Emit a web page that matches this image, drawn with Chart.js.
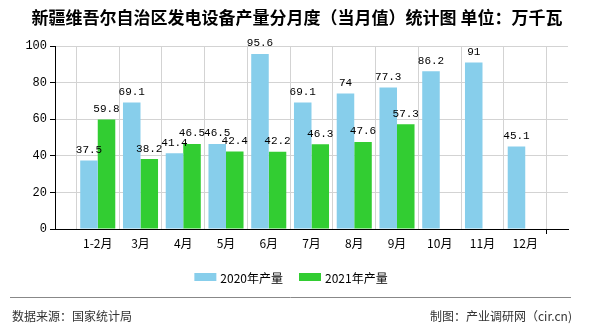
<!DOCTYPE html>
<html>
<head>
<meta charset="utf-8">
<script src="https://cdn.jsdelivr.net/npm/chart.js@4"></script>
<style>
  html, body { margin: 0; padding: 0; background: #fff; }
  #wrap { width: 590px; height: 330px; position: relative; }
</style>
</head>
<body>
<div id="wrap"><canvas id="genChart" width="590" height="330"></canvas></div>
<script>
const months = ["1-2月", "3月", "4月", "5月", "6月", "7月", "8月", "9月", "10月", "11月", "12月"];
const output2020 = [37.5, 69.1, 41.4, 46.5, 95.6, 69.1, 74, 77.3, 86.2, 91, 45.1];
const output2021 = [59.8, 38.2, 46.5, 42.4, 42.2, 46.3, 47.6, 57.3, null, null, null];
const yTicks = [0, 20, 40, 60, 80, 100];

const titleText = "新疆维吾尔自治区发电设备产量分月度（当月值）统计图 单位：万千瓦";
const sourceText = "数据来源：国家统计局";
const makerText = "制图：产业调研网（cir.cn)";

const CJK = '"Noto Sans CJK SC", "Noto Sans", sans-serif';
const MONO = '"Liberation Mono", "DejaVu Sans Mono", monospace';

// blank slot at each end so months sit on the grid lines
const labels = ["", ...months, ""];
const pad = arr => [null, ...arr, null];

/* ===============================
   TITLE, VALUE LABELS, LEGEND, FOOTER
   =============================== */
const decorPlugin = {
  id: "decor",
  afterDatasetsDraw(chart) {
    const ctx = chart.ctx;
    ctx.save();
    ctx.font = "11px " + MONO;
    ctx.fillStyle = "#000";
    ctx.textAlign = "center";
    ctx.textBaseline = "bottom";
    chart.data.datasets.forEach((ds, di) => {
      const meta = chart.getDatasetMeta(di);
      meta.data.forEach((bar, i) => {
        const v = ds.data[i];
        if (v === null || v === undefined) return;
        ctx.fillText(String(v), bar.x, bar.y - 5);
      });
    });
    ctx.restore();
  },
  afterDraw(chart) {
    const ctx = chart.ctx;
    const W = chart.width;
    ctx.save();

    // title
    ctx.font = "bold 17px " + CJK;
    ctx.fillStyle = "#000";
    ctx.textAlign = "center";
    ctx.textBaseline = "middle";
    ctx.fillText(titleText, W / 2 + 2, 18);

    // legend
    ctx.font = "12px " + CJK;
    const items = chart.data.datasets.map(ds => ({
      label: ds.label,
      color: ds.backgroundColor,
      w: 22 + 4 + ctx.measureText(ds.label).width
    }));
    const gap = 16;
    const total = items.reduce((s, it) => s + it.w, 0) + gap * (items.length - 1);
    let x = W / 2 - 4 - total / 2;
    const ly = 277;
    items.forEach(it => {
      ctx.fillStyle = it.color;
      ctx.fillRect(x, ly - 4, 22, 8);
      ctx.fillStyle = "#000";
      ctx.textAlign = "left";
      ctx.fillText(it.label, x + 26, ly + 1);
      x += it.w + gap;
    });

    // separator + footer
    ctx.strokeStyle = "#888";
    ctx.lineWidth = 1;
    ctx.beginPath();
    ctx.moveTo(10, 297.5);
    ctx.lineTo(571, 297.5);
    ctx.stroke();

    ctx.font = "12px " + CJK;
    ctx.fillStyle = "#333";
    ctx.textAlign = "left";
    ctx.fillText(sourceText, 12, 316);
    ctx.textAlign = "right";
    ctx.fillText(makerText, 572, 316);

    ctx.restore();
  }
};

new Chart(document.getElementById("genChart").getContext("2d"), {
  type: "bar",
  data: {
    labels,
    datasets: [
      {
        label: "2020年产量",
        data: pad(output2020),
        backgroundColor: "#87CEEB",
        categoryPercentage: 0.82,
        barPercentage: 1
      },
      {
        label: "2021年产量",
        data: pad(output2021),
        backgroundColor: "#32CD32",
        categoryPercentage: 0.82,
        barPercentage: 1
      }
    ]
  },
  options: {
    responsive: false,
    animation: false,
    devicePixelRatio: 1,
    layout: { padding: { left: 0, right: 22, top: 46, bottom: 71 } },
    plugins: {
      legend: { display: false },
      title: { display: false },
      tooltip: { enabled: false }
    },
    scales: {
      x: {
        offset: false,
        afterFit: s => { s.height = 30; },
        grid: {
          color: "#d3d3d3",
          tickColor: c => (c.index === 0 || c.index === labels.length - 1) ? "#000" : "rgba(0,0,0,0)",
          tickLength: 5
        },
        border: { color: "#000", width: 1 },
        ticks: {
          autoSkip: false,
          maxRotation: 0,
          color: "#000",
          padding: 2,
          font: { family: CJK, size: 12 }
        }
      },
      y: {
        min: yTicks[0],
        max: yTicks[yTicks.length - 1],
        afterFit: s => { s.width = 55; },
        afterBuildTicks: s => { s.ticks = yTicks.map(v => ({ value: v })); },
        grid: { color: "#d3d3d3", tickColor: "#000", tickLength: 5 },
        border: { color: "#000", width: 1 },
        ticks: {
          color: "#000",
          padding: 3,
          font: { family: MONO, size: 12 }
        }
      }
    }
  },
  plugins: [decorPlugin]
});
</script>
</body>
</html>
